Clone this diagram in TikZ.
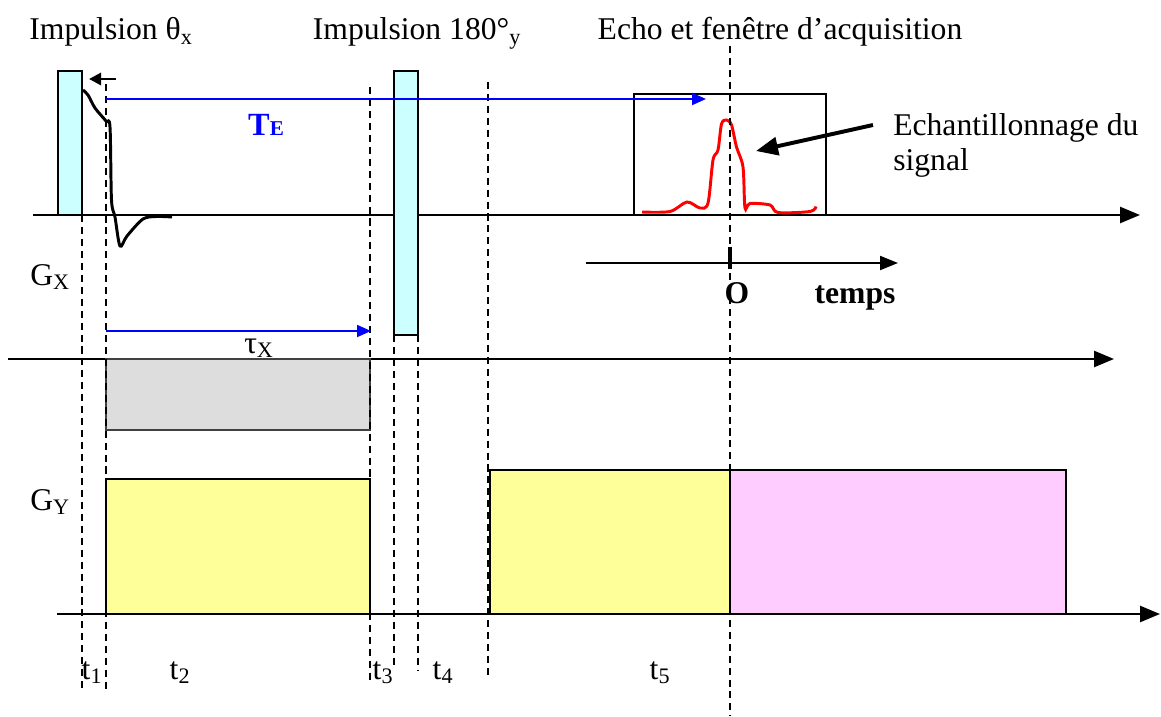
\documentclass[tikz,border=0pt]{standalone}
\usepackage{fontspec}
\setmainfont{Liberation Serif}
\usepackage{xcolor}
\usetikzlibrary{arrows.meta}

\definecolor{pulsecyan}{HTML}{CCFFFF}
\definecolor{gradgray}{HTML}{DDDDDD}
\definecolor{gradyellow}{HTML}{FFFF99}
\definecolor{gradpink}{HTML}{FFCCFF}

\tikzset{
  axis/.style={line width=1.8pt, -{Triangle[length=0.5cm,width=0.4cm]}},
  guide/.style={line width=1.4pt, dash pattern=on 5pt off 3.5pt},
  pulse/.style={draw, line width=1.4pt, fill=pulsecyan},
  lobe/.style={draw, line width=1.4pt},
  delay/.style={blue, line width=1.4pt, -{Triangle[length=0.35cm,width=0.3cm]}},
  lbl/.style={font=\fontsize{22.5}{26}\selectfont, inner sep=0pt, anchor=base},
}

\begin{document}
\begin{tikzpicture}[x=0.025cm, y=-0.025cm]
\useasboundingbox (0,0) rectangle (1161,716);

% Axes
\draw[axis] (33,215) -- (1140,215);
\draw[axis] (8,359) -- (1114,359);
\draw[axis] (57,614) -- (1160,614);

% Gradient lobes
\filldraw[lobe, fill=gradgray, draw=black!75] (106,359) rectangle (370,430);
\filldraw[lobe, fill=gradyellow] (106,479) rectangle (370,614);
\filldraw[lobe, fill=gradyellow] (490,470) rectangle (730,614);
\filldraw[lobe, fill=gradpink] (730,470) rectangle (1066,614);

% RF pulses
\filldraw[pulse] (58,71) rectangle (82,215);
\filldraw[pulse] (394,71) rectangle (418,335);

% Acquisition window
\draw[line width=1pt] (634,94) rectangle (826,215);

% FID after the first pulse
\draw[line width=2.1pt, smooth] plot coordinates {(83,90) (88,95) (95,108) (106,121) (110,127)
  (111.5,200) (115,217) (120,246) (127,236) (143,219) (157,216.5) (172,217)};

% Echo (sampled signal)
\draw[red, line width=2.1pt, smooth] plot coordinates {(642,212) (670,211.5) (687,202) (700,208)
  (708,203) (713,160) (718,150) (721.5,124) (726.5,120) (731.5,125) (736.5,147) (743,167)
  (745,208) (750,203.5) (770,205) (778,212.5) (810,211.5) (816,206.5)};

% Time reference
\draw[line width=1.4pt, -{Triangle[length=0.45cm,width=0.35cm]}] (586,263) -- (898,263);
\draw[line width=3pt] (730,247) -- (730,269);

% Timing guides
\draw[guide] (82,215) -- (82,690);
\draw[guide] (106,84) -- (106,692);
\draw[guide] (370,87) -- (370,682);
\draw[guide] (394,335) -- (394,668);
\draw[guide] (418,335) -- (418,670);
\draw[guide] (488,82) -- (488,677);
\draw[guide] (730,46) -- (730,716);

% Delays
\coordinate (teStart) at (106,99);
\coordinate (teEnd) at (706,99);
\coordinate (tauStart) at (106,331);
\coordinate (tauEnd) at (371,331);
\draw[delay] (teStart) -- (teEnd);
\draw[delay] (tauStart) -- (tauEnd);
\coordinate (backStart) at (116,79);
\coordinate (backEnd) at (89,79);
\draw[line width=2pt, -{Triangle[length=0.3cm,width=0.3cm]}] (backStart) -- (backEnd);

% Labels
\node[lbl] (pulseOneLbl) at (111,40) {Impulsion θ\textsubscript{x}};
\node[lbl] (pulseTwoLbl) at (417,40) {Impulsion 180°\textsubscript{y}};
\node[lbl] (echoLbl) at (780,40) {Echo et fenêtre d’acquisition};
\node[lbl, blue, font=\fontsize{23}{26}\selectfont\bfseries] (teLbl) at (266,135) {T{\fontsize{15}{15}\selectfont E}};
\node[lbl, anchor=base west] (tauLbl) at (244,353) {τ\textsubscript{X}};
\node[lbl, anchor=base west] (gxLbl) at (30,285) {G\textsubscript{X}};
\node[lbl, anchor=base west] (gyLbl) at (30,510) {G\textsubscript{Y}};
\node[lbl, anchor=base west] (sampleLbl) at (893,135) {Echantillonnage du};
\node[lbl, anchor=base west] (sampleLblTwo) at (893,170) {signal};
\node[lbl, font=\fontsize{22.5}{26}\selectfont\bfseries] (originLbl) at (737,303) {O};
\node[lbl, font=\fontsize{22.5}{26}\selectfont\bfseries] (tempsLbl) at (855,303) {temps};
\foreach \tx/\tn in {92/1, 180/2, 383/3, 443/4, 660/5}
  \node[lbl] (t\tn) at (\tx,679) {t\textsubscript{\tn}};

% Callout to the echo
\coordinate (calloutStart) at (873,125);
\coordinate (calloutEnd) at (756,151);
\draw[line width=2.8pt, -{Triangle[length=0.55cm,width=0.45cm]}] (calloutStart) -- (calloutEnd);

\end{tikzpicture}
\end{document}
